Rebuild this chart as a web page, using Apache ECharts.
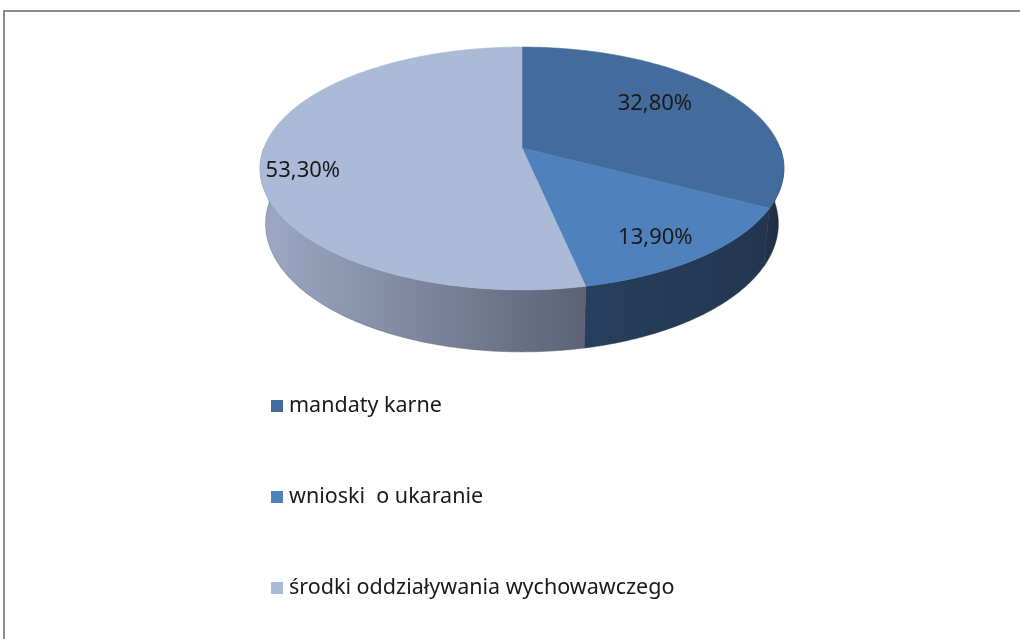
<!DOCTYPE html>
<html>
<head>
<meta charset="utf-8">
<script src="https://cdn.jsdelivr.net/npm/echarts@6/dist/echarts.min.js"></script>
<style>
  html, body { margin: 0; padding: 0; background: #fff; }
  #chart { width: 1020px; height: 639px; }
</style>
</head>
<body>
<div id="chart"></div>
<script>
const categories = ['mandaty karne', 'wnioski  o ukaranie', 'środki oddziaływania wychowawczego'];
const values = [32.8, 13.9, 53.3];
const valueLabels = ['32,80%', '13,90%', '53,30%'];

const topColors = ['#436C9C', '#4F81BD', '#AABAD7'];
const sideColors = [['#22344D', '#1C2B3F'], ['#273F5E', '#22364F'], ['#9DA9C4', '#5C6276']];
const labelShift = [[-23, -2], [4, 11], [-24, 13]];

// simple perspective camera for the tilted disc
const view = { cx: 522, cy: 148, k: 1363, d: 5.28, sin: 0.457, cos: 0.89, depth: 0.243 };

function project(theta, r, y) {
  const X = r * Math.sin(theta), Z = -r * Math.cos(theta);
  const yc = y * view.cos - Z * view.sin;
  const dist = view.d - (y * view.sin + Z * view.cos);
  return [view.cx + view.k * X / dist, view.cy - view.k * yc / dist];
}

function arc(a0, a1) {
  const n = Math.max(2, Math.ceil((a1 - a0) / (Math.PI / 360)));
  const out = [];
  for (let j = 0; j <= n; j++) out.push(a0 + (a1 - a0) * j / n);
  return out;
}

const total = values.reduce((s, v) => s + v, 0);
const starts = [];
values.reduce((acc, v, i) => { starts[i] = acc / total * 2 * Math.PI; return acc + v; }, 0);

function renderSlice(i) {
  return function (params, api) {
    const a0 = starts[i];
    const a1 = a0 + 2 * Math.PI * api.value(0) / total;
    const children = [];

    // front wall
    const s0 = Math.max(a0, Math.PI / 2), s1 = Math.min(a1, 3 * Math.PI / 2);
    if (s1 > s0) {
      const ts = arc(s0, s1);
      const pts = ts.map(t => project(t, 1, 0))
        .concat(ts.slice().reverse().map(t => project(t, 1, -view.depth)));
      children.push({
        type: 'polygon',
        z2: 1,
        shape: { points: pts },
        style: {
          fill: new echarts.graphic.LinearGradient(0, 0, 1, 0, [
            { offset: 0, color: sideColors[i][0] },
            { offset: 1, color: sideColors[i][1] }
          ]),
          stroke: sideColors[i][1],
          lineWidth: 0.5
        }
      });
    }

    // top face
    const top = [project(0, 0, 0)].concat(arc(a0, a1).map(t => project(t, 1, 0)));
    children.push({
      type: 'polygon',
      z2: 2,
      shape: { points: top },
      style: { fill: topColors[i], stroke: topColors[i], lineWidth: 0.6 }
    });

    // value label
    const p = project((a0 + a1) / 2, 0.75, 0);
    children.push({
      type: 'text',
      z2: 3,
      x: p[0] + labelShift[i][0],
      y: p[1] + labelShift[i][1],
      style: {
        text: valueLabels[i],
        fill: '#1a1a1a',
        font: '22px "Noto Sans"',
        align: 'center',
        verticalAlign: 'middle'
      }
    });

    return { type: 'group', children: children };
  };
}

const chart = echarts.init(document.getElementById('chart'));
chart.setOption({
  animation: false,
  backgroundColor: '#fff',
  graphic: [{
    type: 'polyline',
    shape: { points: [[4, 660], [4, 11], [1040, 11]] },
    style: { fill: null, stroke: '#8c8c8c', lineWidth: 2 },
    silent: true
  }],
  legend: {
    orient: 'vertical',
    left: 266,
    top: 388,
    icon: 'rect',
    itemWidth: 12,
    itemHeight: 12,
    itemGap: 65,
    selectedMode: false,
    data: categories,
    textStyle: { fontFamily: 'Noto Sans', fontSize: 21.5, color: '#1a1a1a', lineHeight: 26, padding: [0, 0, 0, 1] }
  },
  series: categories.map((name, i) => ({
    type: 'custom',
    name: name,
    coordinateSystem: 'none',
    itemStyle: { color: topColors[i] },
    data: [[values[i]]],
    renderItem: renderSlice(i)
  }))
});
</script>
</body>
</html>
